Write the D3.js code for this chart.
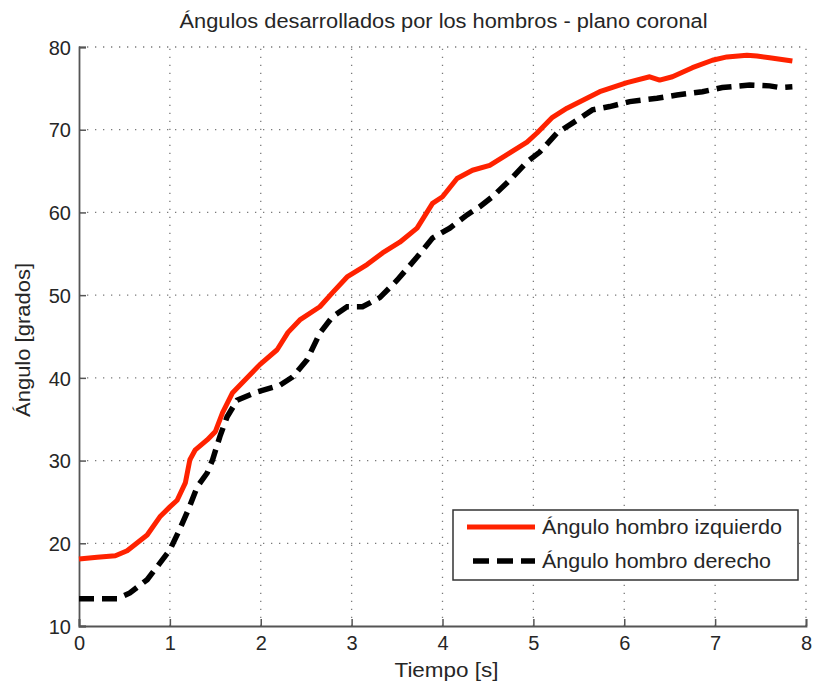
<!DOCTYPE html>
<html>
<head>
<meta charset="utf-8">
<script src="https://cdn.jsdelivr.net/npm/d3@7"></script>
<style>
  html, body { margin: 0; padding: 0; background: #fff; }
  svg { display: block; }
  text { font-family: "Liberation Sans", Arial, sans-serif; fill: #262626; }
</style>
</head>
<body>
<svg id="chart" width="817" height="685"></svg>
<script>
// Shoulder angles in the coronal plane over time
const tiempoIzq = [0, 0.2, 0.4, 0.53, 0.75, 0.89, 1.0, 1.08, 1.17, 1.22, 1.28, 1.41, 1.5, 1.58, 1.69, 1.85, 1.99, 2.18, 2.3, 2.43, 2.65, 2.79, 2.95, 3.17, 3.34, 3.53, 3.72, 3.89, 4.0, 4.16, 4.33, 4.52, 4.71, 4.93, 5.04, 5.21, 5.37, 5.55, 5.73, 6.03, 6.28, 6.39, 6.53, 6.75, 6.97, 7.13, 7.35, 7.46, 7.6, 7.85];
const anguloIzq = [18.1, 18.3, 18.5, 19.1, 21.0, 23.2, 24.4, 25.2, 27.3, 30.1, 31.3, 32.5, 33.5, 35.8, 38.2, 40.0, 41.6, 43.4, 45.5, 47.0, 48.6, 50.3, 52.2, 53.7, 55.1, 56.4, 58.1, 61.1, 61.9, 64.1, 65.1, 65.7, 67.0, 68.5, 69.6, 71.5, 72.6, 73.6, 74.6, 75.7, 76.4, 76.0, 76.4, 77.5, 78.4, 78.8, 79.0, 78.9, 78.7, 78.3];

const tiempoDer = [0, 0.42, 0.56, 0.75, 0.89, 1.0, 1.1, 1.2, 1.3, 1.41, 1.47, 1.55, 1.63, 1.74, 1.96, 2.21, 2.35, 2.51, 2.65, 2.79, 2.95, 3.12, 3.31, 3.5, 3.72, 3.89, 4.08, 4.27, 4.41, 4.55, 4.74, 4.93, 5.07, 5.26, 5.43, 5.65, 5.84, 6.06, 6.36, 6.58, 6.86, 7.08, 7.38, 7.6, 7.71, 7.85];
const anguloDer = [13.3, 13.3, 14.0, 15.6, 17.6, 19.2, 21.5, 24.0, 26.8, 28.5, 30.1, 32.9, 35.3, 37.3, 38.3, 39.1, 40.1, 42.2, 45.4, 47.4, 48.6, 48.6, 49.7, 51.8, 54.6, 56.9, 58.1, 59.7, 60.7, 61.9, 63.9, 66.1, 67.3, 69.6, 70.8, 72.4, 72.8, 73.4, 73.8, 74.2, 74.6, 75.1, 75.4, 75.3, 75.1, 75.2];

const xTicks = [0, 1, 2, 3, 4, 5, 6, 7, 8];
const yTicks = [10, 20, 30, 40, 50, 60, 70, 80];

const titulo = "Ángulos desarrollados por los hombros - plano coronal";
const etiquetaX = "Tiempo [s]";
const etiquetaY = "Ángulo [grados]";
const leyenda = ["Ángulo hombro izquierdo", "Ángulo hombro derecho"];

const svg = d3.select("#chart");
const plot = { left: 79, right: 806, top: 47, bottom: 626 };

const x = d3.scaleLinear().domain([0, 8]).range([plot.left, plot.right]);
const y = d3.scaleLinear().domain([10, 80]).range([plot.bottom, plot.top]);

// dotted grid
const grid = svg.append("g").attr("stroke", "#7a7a7a").attr("stroke-width", 1.3)
  .attr("stroke-dasharray", "1.3,6.7").attr("fill", "none");
xTicks.slice(1).forEach(t => {
  grid.append("line").attr("x1", x(t)).attr("x2", x(t))
    .attr("y1", plot.bottom).attr("y2", plot.top);
});
yTicks.slice(1).forEach(t => {
  grid.append("line").attr("x1", plot.left).attr("x2", plot.right)
    .attr("y1", y(t)).attr("y2", y(t));
});

// axes with inward ticks
const xAxis = svg.append("g").attr("transform", `translate(0,${plot.bottom})`)
  .call(d3.axisBottom(x).tickValues(xTicks).tickSize(-7).tickPadding(12).tickFormat(d3.format("d")));
const yAxis = svg.append("g").attr("transform", `translate(${plot.left},0)`)
  .call(d3.axisLeft(y).tickValues(yTicks).tickSize(-7).tickPadding(8).tickFormat(d3.format("d")));
[xAxis, yAxis].forEach(a => {
  a.select(".domain").attr("stroke", "#555").attr("stroke-width", 1.8);
  a.selectAll(".tick line").attr("stroke", "#555").attr("stroke-width", 1.5);
  a.selectAll(".tick text").attr("font-size", 20).attr("font-family", "Liberation Sans, Arial, sans-serif").attr("fill", "#262626");
});
xAxis.selectAll(".tick text").attr("dy", "0.6em");
yAxis.selectAll(".tick text").attr("dy", "0.36em");

// series
const line = d3.line().x(d => x(d[0])).y(d => y(d[1]));
const izq = tiempoIzq.map((t, i) => [t, anguloIzq[i]]);
const der = tiempoDer.map((t, i) => [t, anguloDer[i]]);

svg.append("path").datum(izq).attr("d", line)
  .attr("fill", "none").attr("stroke", "#ff2200").attr("stroke-width", 5)
  .attr("stroke-linejoin", "round");
svg.append("path").datum(der).attr("d", line)
  .attr("fill", "none").attr("stroke", "#000").attr("stroke-width", 5.5)
  .attr("stroke-dasharray", "15,8");

// title and axis labels
svg.append("text").attr("x", (plot.left + plot.right) / 2 + 1).attr("y", 28)
  .attr("text-anchor", "middle").attr("font-size", 20)
  .attr("textLength", 528).attr("lengthAdjust", "spacingAndGlyphs").text(titulo);
svg.append("text").attr("x", (plot.left + plot.right) / 2 + 4).attr("y", 677)
  .attr("text-anchor", "middle").attr("font-size", 20)
  .attr("textLength", 104).attr("lengthAdjust", "spacingAndGlyphs").text(etiquetaX);
svg.append("text").attr("transform", `translate(30,340) rotate(-90)`)
  .attr("text-anchor", "middle").attr("font-size", 20)
  .attr("textLength", 154).attr("lengthAdjust", "spacingAndGlyphs").text(etiquetaY);

// legend
const lg = svg.append("g");
lg.append("rect").attr("x", 453).attr("y", 510).attr("width", 345).attr("height", 70)
  .attr("fill", "#fff").attr("stroke", "#333").attr("stroke-width", 1.5);
const estilos = [
  { color: "#ff2200", dash: null, w: 5 },
  { color: "#000", dash: "16,8", w: 5.5 }
];
leyenda.forEach((s, i) => {
  const yy = 527 + i * 34;
  lg.append("line").attr("x1", i === 0 ? 467 : 473).attr("x2", 535).attr("y1", yy).attr("y2", yy)
    .attr("stroke", estilos[i].color).attr("stroke-width", estilos[i].w)
    .attr("stroke-dasharray", estilos[i].dash);
  lg.append("text").attr("x", 542).attr("y", yy + 7).attr("font-size", 20)
    .attr("textLength", i === 0 ? 240 : 229).attr("lengthAdjust", "spacingAndGlyphs").text(s);
});
</script>
</body>
</html>
